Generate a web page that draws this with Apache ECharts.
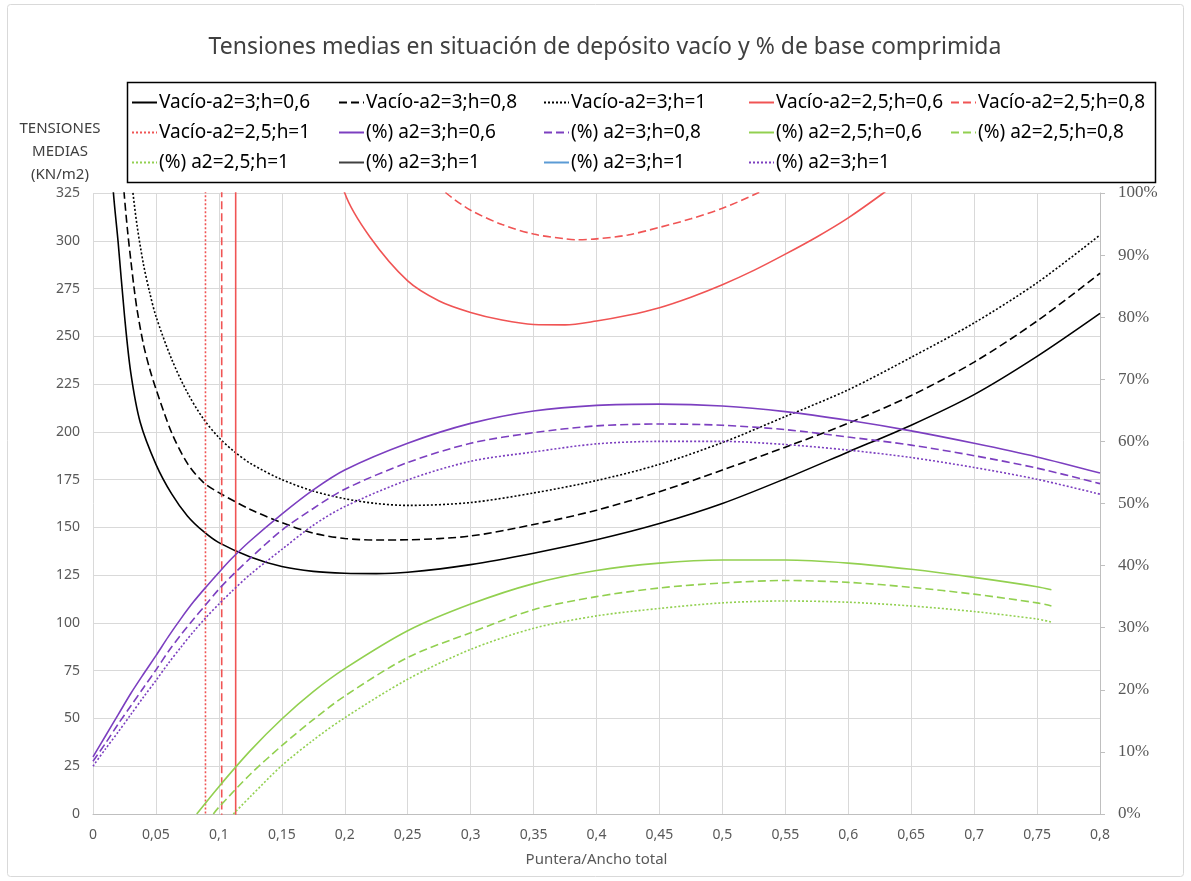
<!DOCTYPE html>
<html>
<head>
<meta charset="utf-8">
<script src="https://cdn.jsdelivr.net/npm/echarts@6/dist/echarts.min.js"></script>
<style>html,body{margin:0;padding:0;background:#fff}#c{width:1191px;height:881px}</style>
</head>
<body>
<div id="c"></div>
<script>
// ---------- DATA ----------
const titleText = 'Tensiones medias en situación de depósito vacío y % de base comprimida';
const yAxisTitle = 'TENSIONES\nMEDIAS\n(KN/m2)';
const xAxisTitle = 'Puntera/Ancho total';

// Vacío a2=3 (left axis, KN/m2)
const xVacA3h06 = [0.0125,0.016,0.02,0.025,0.03,0.0375,0.05,0.0625,0.075,0.0875,0.1,0.125,0.15,0.175,0.2,0.225,0.25,0.3,0.35,0.4,0.45,0.5,0.55,0.6,0.65,0.7,0.75,0.8];
const vacA3h06  = [370,327,299,261,231,205,183,167.5,156,148,142,134.5,129.5,127,126,125.8,126.5,130.5,136.5,143.5,152,162.5,175.5,189.5,203.5,219.5,239.5,262];
const xVacA3h08 = [0.02,0.0246,0.0275,0.03,0.0325,0.035,0.04,0.045,0.05,0.0625,0.075,0.0875,0.1,0.125,0.15,0.175,0.2,0.225,0.25,0.3,0.35,0.4,0.45,0.5,0.55,0.6,0.65,0.7,0.75,0.8];
const vacA3h08  = [370,326,305,290,276,264,246,233,222.5,199.5,183.5,173.7,168.2,159.4,152.5,147,144.2,143.4,143.5,145.5,151.5,159,168.7,180,192,204.5,219,236.5,258,283];
const xVacA3h1  = [0.028,0.0315,0.035,0.04,0.045,0.05,0.0625,0.075,0.0875,0.1,0.1125,0.125,0.15,0.175,0.2,0.225,0.25,0.3,0.35,0.4,0.45,0.5,0.55,0.6,0.65,0.7,0.75,0.8];
const vacA3h1   = [350,326.5,308,288,273,260.5,238,220.5,207,197,189.5,183.5,175,169,165,162.5,161.5,163,168,174.5,183,194.4,208,222,239,257,278,303];

// Vacío a2=2,5 (left axis, KN/m2) – pole then curve
const xVacA25h06 = [0.1133,0.1137,0.125,0.15,0.175,0.2,0.22,0.25,0.275,0.3,0.325,0.35,0.375,0.4,0.425,0.45,0.475,0.5,0.525,0.55,0.575,0.6,0.628,0.65,0.7,0.75,0.8];
const vacA25h06  = [-20000,20000,1300,560,385,325,302,279,268.5,262.5,258.5,256.2,256,258,261,265,270.5,277,284.5,293,302,312,325,336,362,392,425];
const xVacA25h08 = [0.1022,0.1026,0.125,0.15,0.2,0.25,0.2805,0.3,0.325,0.35,0.375,0.3837,0.4,0.425,0.45,0.475,0.5,0.528,0.55,0.6,0.7,0.8];
const vacA25h08  = [-20000,20000,1200,700,420,343,325,316,308.5,303.5,301,300.5,301,303,307,311.5,317,325,333,352,400,460];
const xVacA25h1  = [0.0893,0.0897,0.1,0.125,0.15,0.2,0.3,0.4,0.5,0.6,0.7,0.8];
const vacA25h1   = [-20000,20000,3000,1200,800,550,400,360,370,410,470,540];

// % base comprimida a2=3 (right axis, %)
const xPctA3 = [0,0.01,0.02,0.03,0.04,0.05,0.06,0.07,0.08,0.09,0.1,0.11,0.125,0.15,0.175,0.2,0.25,0.3,0.35,0.4,0.45,0.5,0.55,0.6,0.65,0.7,0.75,0.8];
const pctA3h06 = [9.2,12.6,16.0,19.4,22.5,25.5,28.6,31.5,34.2,36.6,38.9,41.1,44.0,48.3,52.2,55.4,59.7,62.9,64.9,65.8,66.0,65.7,64.8,63.4,61.7,59.7,57.5,54.9];
const pctA3h08 = [8.5,11.4,14.5,17.4,20.3,23.2,26.2,28.9,31.4,33.8,36.2,38.3,41.2,45.7,49.2,52.3,56.6,59.7,61.4,62.5,62.8,62.6,61.9,60.7,59.4,57.7,55.7,53.2];
const pctA3h1  = [7.7,10.5,13.2,16.0,18.8,21.5,24.3,26.9,29.4,31.7,33.8,35.8,38.6,42.6,46.5,49.5,53.8,56.8,58.3,59.6,60.0,60.0,59.5,58.6,57.4,55.8,53.9,51.5];

// % base comprimida a2=2,5 (right axis, %)
const xPctA25h06 = [0.0824,0.1,0.125,0.15,0.175,0.2,0.25,0.3,0.35,0.4,0.45,0.5,0.55,0.6,0.65,0.7,0.75,0.7614];
const pctA25h06  = [0,4.4,10.2,15.3,19.7,23.4,29.5,33.8,37.1,39.2,40.4,40.9,40.9,40.4,39.4,38.1,36.6,36.1];
const xPctA25h08 = [0.0956,0.1,0.125,0.15,0.175,0.2,0.25,0.3,0.35,0.4,0.45,0.5,0.55,0.6,0.65,0.7,0.75,0.7614];
const pctA25h08  = [0,1.1,6.4,11.0,15.2,19.0,25.2,29.2,32.9,35.0,36.4,37.2,37.6,37.3,36.5,35.4,34.0,33.5];
const xPctA25h1  = [0.1115,0.125,0.15,0.175,0.2,0.25,0.3,0.35,0.4,0.45,0.5,0.55,0.6,0.65,0.7,0.75,0.7614];
const pctA25h1   = [0,2.8,7.8,11.9,15.5,21.7,26.5,29.9,31.9,33.1,34.0,34.3,34.1,33.5,32.6,31.4,30.9];

// series names (legend text)
const names = {
  vA3h06: 'Vacío-a2=3;h=0,6', vA3h08: 'Vacío-a2=3;h=0,8', vA3h1: 'Vacío-a2=3;h=1',
  vA25h06: 'Vacío-a2=2,5;h=0,6', vA25h08: 'Vacío-a2=2,5;h=0,8', vA25h1: 'Vacío-a2=2,5;h=1',
  pA3h06: '(%) a2=3;h=0,6', pA3h08: '(%) a2=3;h=0,8',
  pA25h06: '(%) a2=2,5;h=0,6', pA25h08: '(%) a2=2,5;h=0,8', pA25h1: '(%) a2=2,5;h=1',
  pA3h1gray: '(%) a2=3;h=1 ', pA3h1blue: '(%) a2=3;h=1  ', pA3h1: '(%) a2=3;h=1'
};

// ---------- CHART ----------
const zip = (xs, ys) => xs.map((x, i) => [x, ys[i]]);
const FONT = 'Noto Sans';
const BLACK = '#000000', RED = '#f05454', PURPLE = '#7c3fc0', GREEN = '#92d050';
const DASH = [8, 4], DOT = [2, 2];

function line(name, data, color, type, yAxisIndex) {
  return {
    name, type: 'line', data, yAxisIndex, showSymbol: false, symbol: 'none',
    smooth: 0.3, clip: true, animation: false,
    lineStyle: { color, width: 1.6, type }, itemStyle: { color }
  };
}

const series = [
  line(names.vA3h06, zip(xVacA3h06, vacA3h06), BLACK, 'solid', 0),
  line(names.vA3h08, zip(xVacA3h08, vacA3h08), BLACK, DASH, 0),
  line(names.vA3h1, zip(xVacA3h1, vacA3h1), BLACK, DOT, 0),
  line(names.vA25h06, zip(xVacA25h06, vacA25h06), RED, 'solid', 0),
  line(names.vA25h08, zip(xVacA25h08, vacA25h08), RED, DASH, 0),
  line(names.vA25h1, zip(xVacA25h1, vacA25h1), RED, DOT, 0),
  line(names.pA3h06, zip(xPctA3, pctA3h06), PURPLE, 'solid', 1),
  line(names.pA3h08, zip(xPctA3, pctA3h08), PURPLE, DASH, 1),
  line(names.pA25h06, zip(xPctA25h06, pctA25h06), GREEN, 'solid', 1),
  line(names.pA25h08, zip(xPctA25h08, pctA25h08), GREEN, DASH, 1),
  line(names.pA25h1, zip(xPctA25h1, pctA25h1), GREEN, DOT, 1),
  line(names.pA3h1gray, [], '#404040', 'solid', 1),
  line(names.pA3h1blue, [], '#5b9bd5', 'solid', 1),
  line(names.pA3h1, zip(xPctA3, pctA3h1), PURPLE, DOT, 1)
];

const legendCols = [
  { left: 131, data: [names.vA3h06, names.vA25h1, names.pA25h1] },
  { left: 338, data: [names.vA3h08, names.pA3h06, names.pA3h1gray] },
  { left: 543, data: [names.vA3h1, names.pA3h08, names.pA3h1blue] },
  { left: 748, data: [names.vA25h06, names.pA25h06, names.pA3h1] },
  { left: 950, data: [names.vA25h08, names.pA25h08] }
];

const chart = echarts.init(document.getElementById('c'), null, { renderer: 'canvas' });
chart.setOption({
  animation: false,
  backgroundColor: '#ffffff',
  textStyle: { fontFamily: FONT },
  title: {
    text: titleText, left: 600, top: 31, textAlign: 'center',
    textStyle: { fontFamily: FONT, fontSize: 23, fontWeight: 'normal', color: '#404040' }
  },
  graphic: [
    { type: 'rect', shape: { x: 7.5, y: 4.5, width: 1176, height: 872, r: 3 }, style: { fill: 'none', stroke: '#d9d9d9', lineWidth: 1 }, silent: true, z: -1 },
    { type: 'rect', shape: { x: 127.5, y: 82.5, width: 1028, height: 100 }, style: { fill: 'none', stroke: '#000', lineWidth: 1.5 }, silent: true }
  ],
  legend: legendCols.map(c => ({
    left: c.left, top: 93, orient: 'vertical', itemGap: 11,
    itemWidth: 25, itemHeight: 2, padding: 0,
    itemStyle: { opacity: 0 },
    textStyle: { fontFamily: FONT, fontSize: 19, color: '#000', lineHeight: 19, padding: [0, 0, 0, -3] },
    data: c.data, selectedMode: false
  })),
  grid: { left: 93, right: 91, top: 193, bottom: 67, containLabel: false, outerBoundsMode: 'none' },
  xAxis: {
    type: 'value', min: 0, max: 0.8, interval: 0.05,
    name: xAxisTitle, nameLocation: 'middle', nameGap: 38,
    nameTextStyle: { fontFamily: FONT, fontSize: 15, color: '#595959' },
    axisLine: { show: true, lineStyle: { color: '#bfbfbf', width: 1 } },
    axisTick: { show: false },
    axisLabel: { fontFamily: FONT, fontSize: 14, color: '#595959', margin: 14,
      formatter: v => String(+v.toFixed(2)).replace('.', ',') },
    splitLine: { show: true, lineStyle: { color: '#d9d9d9', width: 1 } }
  },
  yAxis: [
    {
      type: 'value', min: 0, max: 325, interval: 25, position: 'left',
      name: yAxisTitle, nameLocation: 'end', nameGap: -2,
      nameTextStyle: { fontFamily: FONT, fontSize: 15, color: '#404040', align: 'center', lineHeight: 23, padding: [0, 66, 0, 0] },
      axisLine: { show: false }, axisTick: { show: false },
      axisLabel: { fontFamily: FONT, fontSize: 14, color: '#595959', margin: 13 },
      splitLine: { show: true, lineStyle: { color: '#d9d9d9', width: 1 } }
    },
    {
      type: 'value', min: 0, max: 100, interval: 10, position: 'right',
      axisLine: { show: true, lineStyle: { color: '#bfbfbf', width: 1 } },
      axisTick: { show: true, inside: false, length: 5, lineStyle: { color: '#bfbfbf' } },
      axisLabel: { fontFamily: 'Liberation Serif', fontSize: 17, color: '#595959', margin: 18, formatter: '{value}%' },
      splitLine: { show: false }
    }
  ],
  series
});
</script>
</body>
</html>
